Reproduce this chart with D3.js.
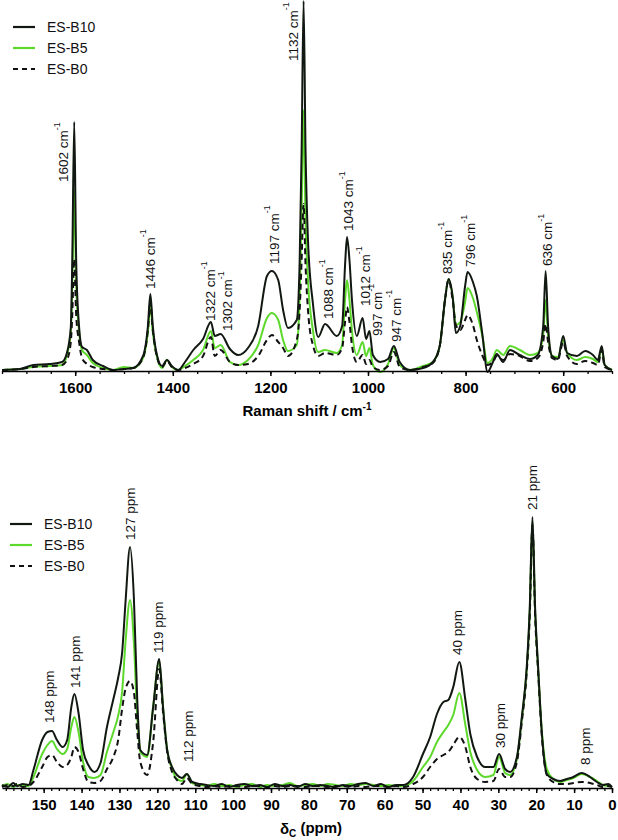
<!DOCTYPE html>
<meta charset="utf-8">
<script src="https://d3js.org/d3.v7.min.js"></script>
<style>
    body { margin: 0; background: #fff; }
    text { font-family: "Liberation Sans", Arial, sans-serif; }
</style>
<div id="chart"></div>
<script>
    // ---- data (arbitrary intensity units) ----
    const seriesNames = ["ES-B10", "ES-B5", "ES-B0"];

    // Raman spectra
    const ramanShift = [
        1750, 1713, 1686, 1652, 1627, 1617, 1609, 1606, 1602, 1598,
        1592, 1586, 1576, 1564, 1543, 1522, 1500, 1481, 1461, 1451,
        1446, 1441, 1432, 1422, 1412, 1402, 1389, 1375, 1358, 1338,
        1322, 1314, 1302, 1283, 1266, 1246, 1225, 1207, 1197, 1184,
        1174, 1164, 1146, 1140, 1136, 1132, 1128, 1123, 1113, 1102,
        1088, 1064, 1053, 1047, 1043, 1038, 1033, 1023, 1011, 1004,
        997, 990, 975, 959, 947, 935, 914, 887, 867, 853,
        842, 835, 826, 820, 811, 801, 796, 785, 777, 766,
        755, 744, 736, 723, 709, 689, 668, 652, 641, 636,
        631, 623, 611, 600, 592, 572, 555, 539, 529, 521,
        515, 500];
    const ramanB10 = [
        0, 1, 5, 6, 8, 17, 43, 110, 248, 110,
        43, 23, 20, 10, 4, 0, 1, 2, 14, 44,
        76, 44, 14, 4, 10, 4, 0, 8, 20, 31,
        48, 34, 36, 21, 15, 22, 44, 94, 99, 90,
        60, 42, 50, 110, 220, 369, 220, 130, 67, 33,
        46, 34, 44, 105, 133, 110, 71, 34, 52, 31,
        39, 15, 8, 11, 24, 8, 0, 2, 8, 24,
        71, 91, 71, 37, 44, 84, 98, 88, 74, 37,
        -2, 8, 16, 8, 20, 15, 11, 15, 44, 99,
        44, 14, 11, 34, 17, 14, 19, 15, 10, 24,
        5, 0];
    const ramanB5 = [
        0, 1, 3, 4, 5, 15, 38, 85, 180, 85,
        38, 20, 15, 7, 2, 0, 3, 2, 12, 38,
        64, 38, 12, 2, 10, 3, 0, 4, 10, 20,
        39, 22, 25, 8, 5, 10, 25, 52, 57, 50,
        30, 19, 25, 75, 160, 260, 150, 90, 40, 18,
        20, 17, 25, 70, 90, 70, 40, 15, 28, 14,
        22, 5, -2, 6, 22, 5, 0, 4, 8, 24,
        71, 91, 71, 45, 48, 68, 82, 72, 58, 35,
        7, 12, 20, 15, 24, 20, 15, 17, 35, 70,
        35, 14, 13, 30, 17, 10, 13, 11, 8, 22,
        5, 0];
    const ramanB0 = [
        0, 1, 3, 4, 5, 10, 28, 55, 111, 55,
        28, 12, 6, 3, 1, 0, 1, 2, 12, 40,
        67, 40, 12, 3, 9, 3, 0, 2, 6, 14,
        33, 14, 20, 8, 5, 6, 14, 30, 35, 28,
        22, 14, 30, 60, 110, 166, 105, 60, 25, 14,
        17, 15, 22, 48, 63, 48, 25, 8, 15, 6,
        10, 3, 0, 4, 18, 3, 0, 3, 7, 24,
        71, 90, 68, 45, 40, 50, 55, 45, 30, 15,
        5, 8, 14, 10, 16, 14, 9, 12, 28, 46,
        28, 12, 10, 28, 14, 6, 9, 7, 5, 20,
        3, 0];
    const ramanTicks = [1600, 1400, 1200, 1000, 800, 600];
    const ramanMinorTicks = d3.range(1750, 499, -50);

    const ramanPeakText = ["1602", "1446", "1322", "1302", "1197", "1132", "1088", "1043",
        "1012", "997", "947", "835", "796", "636"];
    const ramanPeakX = [1625, 1447, 1324, 1289, 1193, 1154, 1082, 1041, 1006, 980, 943, 838, 791, 633];
    const ramanPeakY = [188, 81, 49, 39, 106, 309, 51, 139, 64, 34, 28, 96, 103, 104];

    // 13C NMR spectra
    const nmrShift = [
        161, 159.5, 158, 157, 155.5, 154, 152.7, 150.4, 149, 147.8,
        146.5, 145, 143.8, 142.7, 141.9, 140.8, 139.6, 138.2, 136.6, 135,
        133.3, 131.6, 130.3, 129.3, 128.4, 127.2, 126.2, 125.3, 124.5, 122.7,
        121.1, 119.5, 118.5, 117.4, 116.1, 114.8, 113.5, 112.2, 110.8, 108.7,
        107, 105, 103, 101, 99, 97, 95, 93, 91, 89,
        87, 85, 83, 81, 79, 77, 75, 73, 71, 69,
        67, 65, 63, 61, 59, 57, 55, 52.5, 49.9, 48,
        46.2, 44.5, 43.2, 41.9, 40.3, 38.7, 37.4, 35.6, 33.5, 31.3,
        29.8, 28.2, 26.9, 25.1, 23.8, 22.5, 21.7, 21, 20.3, 19.5, 18.5, 17.2,
        15.5, 13.7, 11.9, 10.2, 8, 5.8, 4, 2.4, 1, 0];
    const nmrB10 = [
        2, 0, 4, 1, 3, 2, 17, 47, 55, 56,
        47, 40, 47, 80, 93, 74, 37, 22, 15, 24,
        60, 88, 110, 134, 185, 240, 190, 87, 37, 32,
        80, 128, 80, 37, 20, 12, 9, 13, 5, 3,
        2, 1, 3, 0, 2, 3, 1, 2, 0, 3,
        1, 2, 0, 3, 1, 2, 1, 0, 2, 1,
        3, 4, 1, 3, 0, 2, 2, 10, 33, 50,
        73, 85, 87, 100, 125, 87, 53, 30, 20, 20,
        33, 18, 15, 30, 70, 120, 180, 270, 180, 120, 53, 13,
        8, 6, 8, 10, 14, 10, 5, 2, 3, 0];
    const nmrB5 = [
        1, 3, 0, 2, 1, 1, 10, 33, 42, 46,
        38, 33, 38, 60, 70, 55, 25, 10, 9, 12,
        35, 55, 72, 95, 145, 187, 145, 70, 35, 30,
        80, 126, 80, 37, 18, 8, 6, 13, 4, 2,
        1, 3, 1, 2, 0, 2, 3, 0, 2, 1,
        2, 4, 1, 2, 3, 1, 3, 2, 1, 3,
        2, 3, 2, 1, 2, 1, 1, 6, 20, 30,
        45, 55, 62, 72, 94, 62, 35, 17, 10, 12,
        30, 14, 12, 28, 68, 118, 176, 266, 176, 118, 55, 18,
        8, 5, 7, 9, 13, 10, 6, 2, 1, 0];
    const nmrB0 = [
        0, 2, 1, 3, 0, 1, 5, 20, 30, 32,
        25, 20, 22, 30, 40, 35, 18, 5, 4, 6,
        18, 30, 48, 78, 98, 106, 95, 55, 25, 12,
        45, 118, 75, 35, 15, 7, 3, 9, 3, 1,
        0, 1, 0, 1, 1, 0, 1, 1, 0, 1,
        0, 1, 1, 0, 1, 1, 0, 1, 1, 0,
        1, 0, 1, 1, 0, 1, 0, 3, 10, 20,
        28, 32, 35, 42, 50, 40, 20, 8, 5, 6,
        18, 10, 10, 25, 65, 115, 172, 262, 172, 115, 50, 12,
        5, 3, 3, 4, 5, 4, 2, 0, 1, 0];
    const nmrTicks = d3.range(150, -1, -10);
    const nmrMinorTicks = d3.range(160, -1, -2);

    const nmrPeakText = ["148", "141", "127", "119", "112", "40", "30", "21", "8"];
    const nmrPeakX = [148.5, 141.7, 127.2, 119.8, 111.9, 40.9, 29.6, 21.1, 7.1];
    const nmrPeakY = [64, 99, 247, 134, 25, 132, 39, 277, 22];

    // ---- layout ----
    const W = 618, H = 840;
    const FONT = "'Liberation Sans', Arial, sans-serif";
    const colors = {"ES-B10": "#111811", "ES-B5": "#5cd92b", "ES-B0": "#111111"};
    const dashes = {"ES-B10": null, "ES-B5": null, "ES-B0": "6,4"};
    const drawOrder = ["ES-B5", "ES-B0", "ES-B10"];

    const svg = d3.select("#chart").append("svg")
        .attr("width", W)
        .attr("height", H)
        .style("background", "#fff");

    function panel(opt) {
        const x = d3.scaleLinear().domain(opt.xDomain).range([2, 612]);
        const y = d3.scaleLinear().domain(opt.yDomain).range(opt.yRange);
        const g = svg.append("g");

        const line = d3.line()
            .x(d => x(d[0]))
            .y(d => y(d[1]))
            .curve(d3.curveMonotoneX);

        drawOrder.forEach(name => {
            const vals = opt.series[name];
            const pts = opt.xs.map((v, i) => [v, vals[i]]);
            g.append("path")
                .datum(pts)
                .attr("fill", "none")
                .attr("stroke", colors[name])
                .attr("stroke-width", 2)
                .attr("stroke-linejoin", "round")
                .attr("stroke-dasharray", dashes[name])
                .attr("d", line);
        });

        const axisY = opt.yRange[0] + 1;
        // minor ticks
        g.append("g")
            .attr("transform", `translate(0,${axisY})`)
            .call(d3.axisBottom(x).tickValues(opt.minor).tickSize(3).tickFormat(""))
            .call(a => a.select(".domain").remove())
            .selectAll("line").attr("stroke-width", 1.3);
        // major ticks + labels
        const ax = g.append("g")
            .attr("transform", `translate(0,${axisY})`)
            .call(d3.axisBottom(x).tickValues(opt.ticks).tickFormat(d3.format("d"))
                .tickSize(5).tickPadding(6).tickSizeOuter(0));
        ax.attr("font-family", FONT).attr("font-size", 15).attr("font-weight", "bold");
        ax.select(".domain").attr("stroke-width", 1.6);
        ax.selectAll("line").attr("stroke-width", 1.5);
        ax.selectAll("text").attr("fill", "#000");

        // peak labels, rotated
        opt.peakText.forEach((t, i) => {
            const lab = g.append("text")
                .attr("transform", `translate(${x(opt.peakX[i])},${y(opt.peakY[i])}) rotate(-90)`)
                .attr("dy", "0.35em")
                .attr("font-family", FONT)
                .attr("font-size", 13.5)
                .attr("fill", "#111")
                .text(t + opt.unit);
            if (opt.sup) {
                lab.append("tspan")
                    .attr("dy", "-0.9em")
                    .attr("font-size", 9)
                    .text("-1");
            }
        });

        // legend
        seriesNames.forEach((name, i) => {
            const ly = opt.legend.y + i * 21;
            g.append("line")
                .attr("x1", opt.legend.x).attr("x2", opt.legend.x + 22)
                .attr("y1", ly).attr("y2", ly)
                .attr("stroke", colors[name])
                .attr("stroke-width", 2.2)
                .attr("stroke-dasharray", dashes[name] ? "5,4" : null);
            g.append("text")
                .attr("x", opt.legend.x + 34)
                .attr("y", ly)
                .attr("dy", "0.35em")
                .attr("font-family", "Lato, 'Open Sans', sans-serif")
                .attr("font-size", 14)
                .attr("fill", "#111")
                .text(name);
        });
        return {x, y, g};
    }

    // upper panel: Raman
    const ramanPanel = panel({
        xs: ramanShift,
        series: {"ES-B10": ramanB10, "ES-B5": ramanB5, "ES-B0": ramanB0},
        xDomain: [1750, 500], yDomain: [0, 369], yRange: [370, 1],
        ticks: ramanTicks, minor: ramanMinorTicks,
        peakText: ramanPeakText, peakX: ramanPeakX, peakY: ramanPeakY,
        unit: " cm", sup: true,
        legend: {x: 13, y: 27}
    });
    const t1 = ramanPanel.g.append("text")
        .attr("x", 307).attr("y", 416)
        .attr("text-anchor", "middle")
        .attr("font-family", FONT)
        .attr("font-size", 15)
        .attr("font-weight", "bold")
        .text("Raman shift / cm");
    t1.append("tspan").attr("dy", "-0.6em").attr("font-size", 10).text("-1");

    // lower panel: 13C NMR
    const nmrPanel = panel({
        xs: nmrShift,
        series: {"ES-B10": nmrB10, "ES-B5": nmrB5, "ES-B0": nmrB0},
        xDomain: [161, 0], yDomain: [0, 280], yRange: [787, 507],
        ticks: nmrTicks, minor: nmrMinorTicks,
        peakText: nmrPeakText, peakX: nmrPeakX, peakY: nmrPeakY,
        unit: " ppm", sup: false,
        legend: {x: 10, y: 524}
    });
    const t2 = nmrPanel.g.append("text")
        .attr("x", 311).attr("y", 834)
        .attr("text-anchor", "middle")
        .attr("font-family", FONT)
        .attr("font-size", 15)
        .attr("font-weight", "bold")
        .text("δ");
    t2.append("tspan").attr("dy", "0.3em").attr("font-size", 10).text("C");
    t2.append("tspan").attr("dy", "-0.3em").text(" (ppm)");
</script>
